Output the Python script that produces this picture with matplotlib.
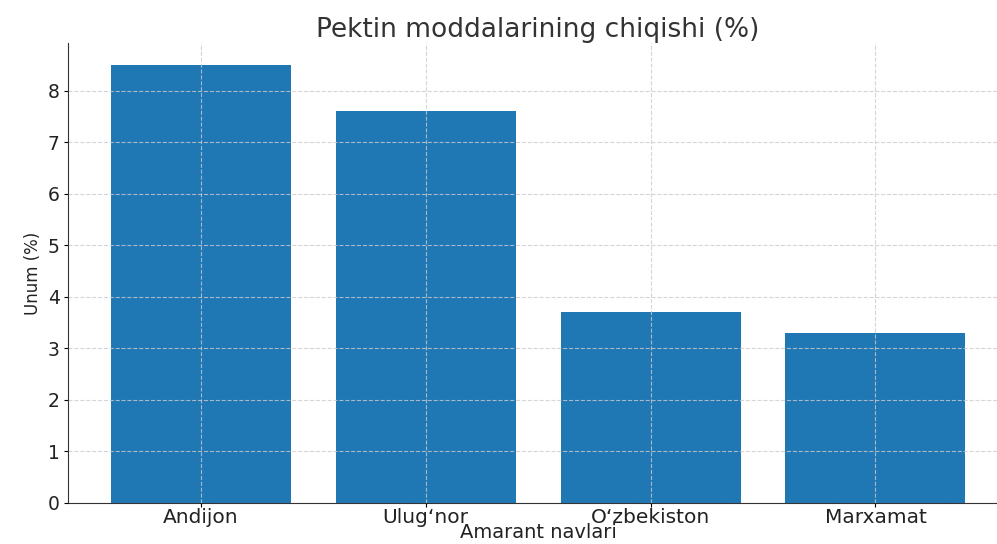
import matplotlib
matplotlib.use("Agg")
import matplotlib.pyplot as plt

categories = ["Andijon", "Ulug‘nor", "O‘zbekiston", "Marxamat"]
values = [8.5, 7.6, 3.7, 3.3]
title = "Pektin moddalarining chiqishi (%)"
xlabel = "Amarant navlari"
ylabel = "Unum (%)"

fig = plt.figure(figsize=(9.97, 5.44), dpi=100)
ax = fig.add_axes([0.0682, 0.0754, 0.943, 0.8456])
ax.bar(range(len(categories)), values, width=0.8, color="#1f77b4")
ax.set_xticks(range(len(categories)))
ax.set_xticklabels(categories, fontsize=14.5, color="#222222")
ax.tick_params(axis="x", length=3, pad=0.5)
ax.tick_params(axis="y", labelsize=13.5, labelcolor="#222222", length=3, pad=3)
ax.set_yticks(range(0, 9))
ax.set_ylim(0, 8.925)
ax.set_xlim(-0.59, 3.59)
ax.set_title(title, fontsize=19, color="#333333", pad=4)
ax.set_xlabel(xlabel, fontsize=14, color="#222222", labelpad=-2.5)
ax.set_ylabel(ylabel, fontsize=12, color="#222222", labelpad=4)
ax.grid(True, linestyle="--", color="#cccccc", linewidth=0.8, alpha=0.8)
ax.set_axisbelow(False)
for s in ["top", "right"]:
    ax.spines[s].set_visible(False)
ax.spines["left"].set_color("#333333")
ax.spines["bottom"].set_color("#333333")
fig.savefig("out.png", dpi=100)
